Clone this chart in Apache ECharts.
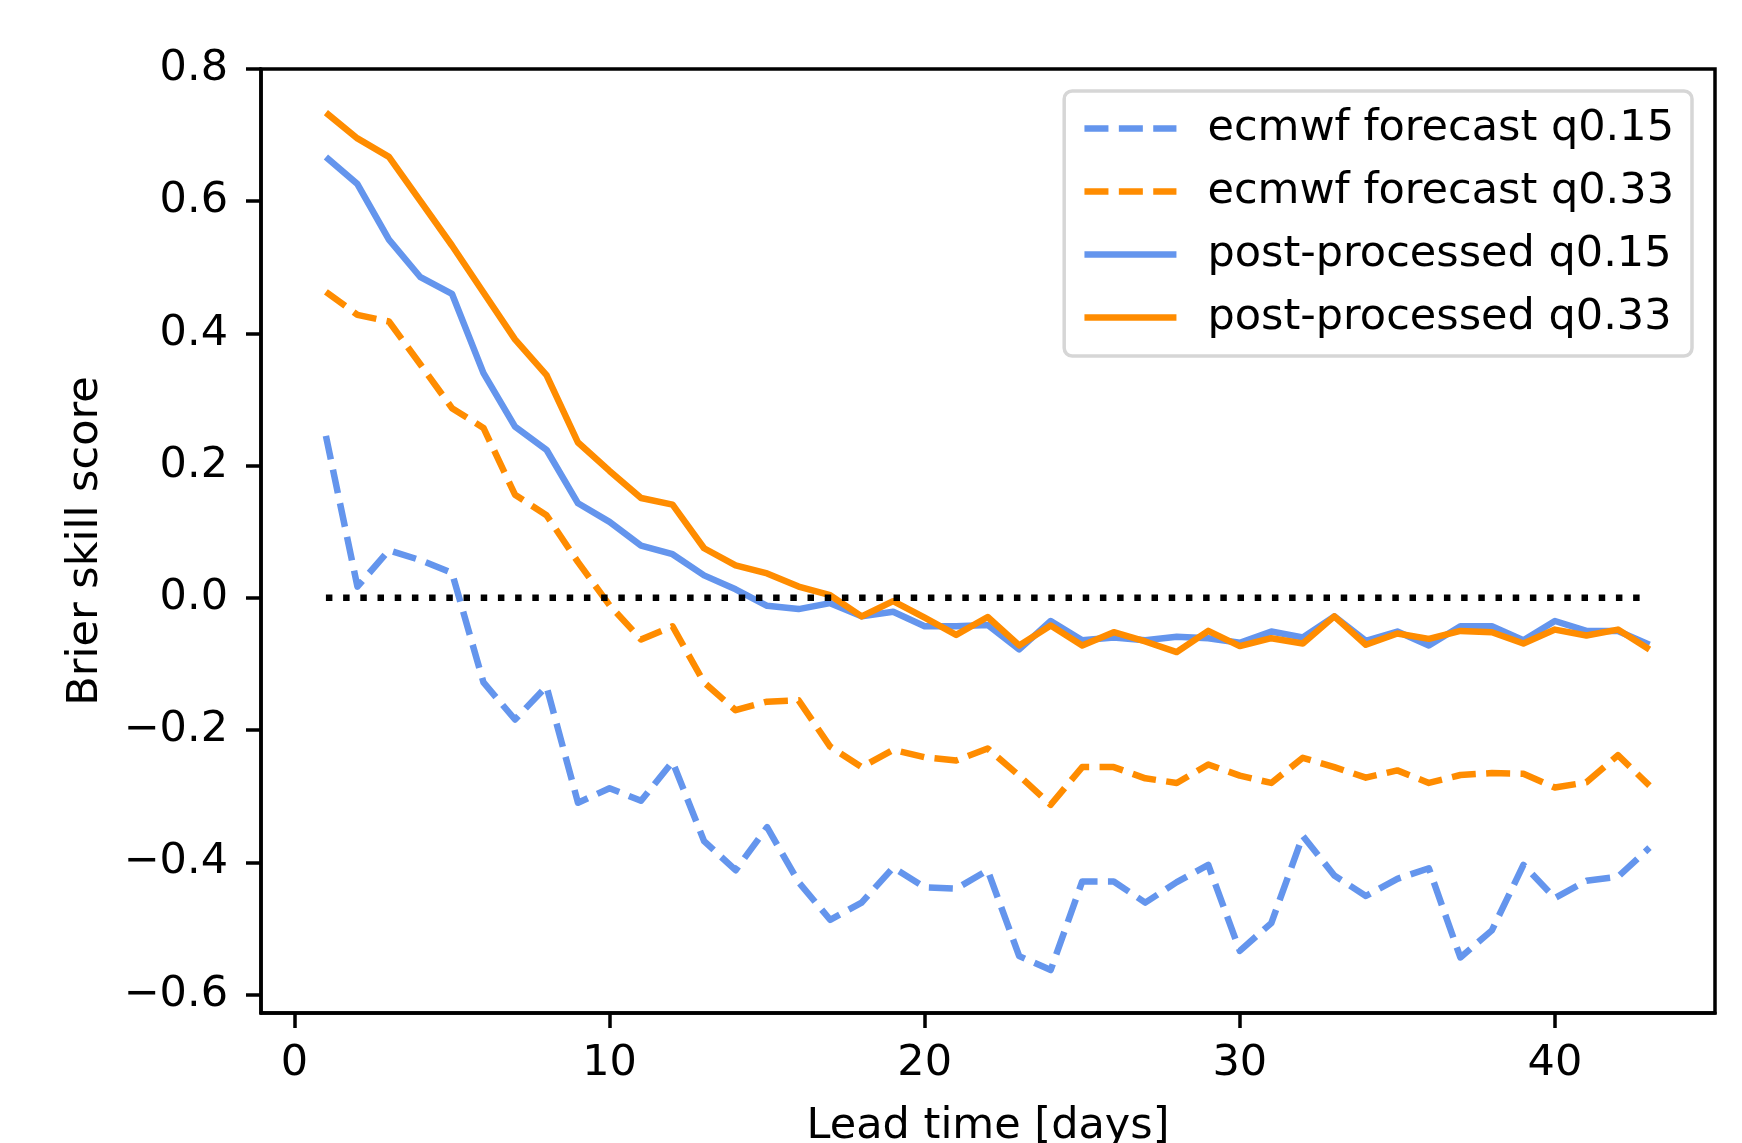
<!DOCTYPE html>
<html>
<head>
<meta charset="utf-8">
<script src="https://cdn.jsdelivr.net/npm/echarts@6/dist/echarts.min.js"></script>
<style>
  html, body { margin: 0; padding: 0; background: #fff; }
  #main { width: 1742px; height: 1143px; }
</style>
</head>
<body>
<div id="main"></div>
<script>
var leadDays = [];
for (var i = 1; i <= 43; i++) leadDays.push(i);

var ecmwfQ15 = [0.245, 0.017, 0.072, 0.057, 0.038, -0.128, -0.184, -0.134, -0.310, -0.288,
    -0.307, -0.248, -0.368, -0.412, -0.347, -0.430, -0.487, -0.461, -0.408, -0.438,
    -0.440, -0.412, -0.542, -0.563, -0.429, -0.429, -0.461, -0.430, -0.404, -0.534,
    -0.492, -0.360, -0.420, -0.451, -0.425, -0.409, -0.544, -0.503, -0.404, -0.454,
    -0.428, -0.422, -0.378];
var ecmwfQ33 = [0.463, 0.428, 0.418, 0.353, 0.287, 0.257, 0.156, 0.125, 0.054, -0.011,
    -0.063, -0.043, -0.128, -0.170, -0.157, -0.155, -0.225, -0.256, -0.230, -0.241,
    -0.246, -0.228, -0.269, -0.313, -0.256, -0.256, -0.273, -0.280, -0.252, -0.269,
    -0.280, -0.242, -0.256, -0.272, -0.261, -0.280, -0.268, -0.265, -0.266, -0.287,
    -0.279, -0.238, -0.284];
var postQ15 = [0.667, 0.626, 0.542, 0.485, 0.460, 0.340, 0.259, 0.224, 0.143, 0.115,
    0.079, 0.066, 0.034, 0.013, -0.012, -0.017, -0.008, -0.028, -0.021, -0.043,
    -0.043, -0.041, -0.078, -0.035, -0.064, -0.060, -0.064, -0.059, -0.061, -0.068,
    -0.051, -0.060, -0.028, -0.065, -0.051, -0.072, -0.043, -0.043, -0.064, -0.035,
    -0.050, -0.050, -0.071];
var postQ33 = [0.734, 0.695, 0.667, 0.600, 0.533, 0.462, 0.391, 0.337, 0.235, 0.192,
    0.151, 0.141, 0.075, 0.049, 0.037, 0.017, 0.004, -0.028, -0.005, -0.030,
    -0.056, -0.029, -0.072, -0.042, -0.072, -0.052, -0.066, -0.082, -0.050, -0.073,
    -0.061, -0.069, -0.028, -0.071, -0.054, -0.062, -0.050, -0.052, -0.069, -0.048,
    -0.057, -0.048, -0.078];
var zeroLine = [[1, 0], [43, 0]];

var xTicks = [0, 10, 20, 30, 40];
var yTicks = [-0.6, -0.4, -0.2, 0.0, 0.2, 0.4, 0.6, 0.8];

var blue = '#6495ED';
var orange = '#FF8C00';
var font = 'DejaVu Sans';
var lw = 6.5;

function pairs(vals) {
    return vals.map(function (v, k) { return [leadDays[k], v]; });
}

function lineSeries(name, vals, color, dashed) {
    return {
        name: name,
        type: 'line',
        data: pairs(vals),
        symbol: 'none',
        silent: true,
        lineStyle: {
            color: color,
            width: lw,
            type: dashed ? [24, 10.4] : 'solid',
            cap: 'butt',
            join: 'round'
        },
        itemStyle: {color: color}
    };
}

var chart = echarts.init(document.getElementById('main'));
chart.setOption({
    animation: false,
    grid: {
        left: 261,
        right: 27,
        top: 69,
        bottom: 130,
        outerBoundsMode: 'none',
        containLabel: false,
        show: true,
        borderColor: '#000',
        borderWidth: 3.5
    },
    legend: {
        data: ['ecmwf forecast q0.15', 'ecmwf forecast q0.33', 'post-processed q0.15', 'post-processed q0.33'],
        orient: 'vertical',
        right: 50,
        top: 91,
        itemWidth: 92,
        itemHeight: 14,
        itemGap: 20,
        padding: [16, 18, 17, 17],
        borderColor: '#d6d6d6',
        borderWidth: 3.5,
        borderRadius: 8,
        itemStyle: {opacity: 0},
        lineStyle: {width: lw, type: 'inherit', cap: 'butt'},
        textStyle: {
            fontFamily: font,
            fontSize: 43,
            color: '#000',
            padding: [0, 0, 0, 26]
        }
    },
    xAxis: {
        type: 'value',
        min: -1.06,
        max: 45.08,
        name: 'Lead time [days]',
        nameLocation: 'middle',
        nameGap: 92,
        nameTextStyle: {fontFamily: font, fontSize: 43, color: '#000'},
        splitLine: {show: false},
        axisLine: {show: true, onZero: false, lineStyle: {color: '#000', width: 3.5}},
        axisTick: {show: true, inside: false, length: 15, lineStyle: {color: '#000', width: 3.5}, customValues: xTicks},
        axisLabel: {fontFamily: font, fontSize: 43, color: '#000', margin: 29, customValues: xTicks}
    },
    yAxis: {
        type: 'value',
        min: -0.628,
        max: 0.8,
        name: 'Brier skill score',
        nameLocation: 'middle',
        nameRotate: 90,
        nameGap: 154,
        nameTextStyle: {fontFamily: font, fontSize: 43, color: '#000'},
        splitLine: {show: false},
        axisLine: {show: true, onZero: false, lineStyle: {color: '#000', width: 3.5}},
        axisTick: {show: true, inside: false, length: 15, lineStyle: {color: '#000', width: 3.5}, customValues: yTicks},
        axisLabel: {
            fontFamily: font,
            fontSize: 43,
            color: '#000',
            margin: 33,
            customValues: yTicks,
            formatter: function (v) {
                return v.toFixed(1).replace('-', '\u2212');
            }
        }
    },
    series: [
        lineSeries('ecmwf forecast q0.15', ecmwfQ15, blue, true),
        lineSeries('ecmwf forecast q0.33', ecmwfQ33, orange, true),
        lineSeries('post-processed q0.15', postQ15, blue, false),
        lineSeries('post-processed q0.33', postQ33, orange, false),
        {
            name: 'zero',
            type: 'line',
            data: zeroLine,
            symbol: 'none',
            silent: true,
            lineStyle: {color: '#000', width: lw, type: [6.5, 10.7], cap: 'butt'}
        }
    ]
});
</script>
</body>
</html>
